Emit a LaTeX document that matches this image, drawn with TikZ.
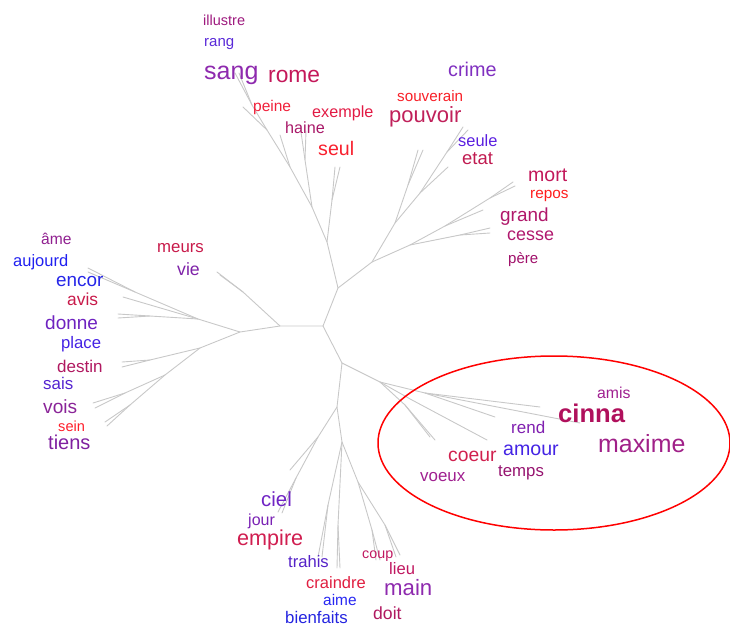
\documentclass[tikz,border=0pt]{standalone}
\usepackage{fontspec}
\setmainfont{Liberation Sans}
\newcommand\wsz[1]{\fontsize{#1}{#1}\selectfont}
\definecolor{cIllustre}{HTML}{9E1A7E}
\definecolor{cRang}{HTML}{5A2AD8}
\definecolor{cSang}{HTML}{8E2AAE}
\definecolor{cRome}{HTML}{C4185A}
\definecolor{cPeine}{HTML}{F0203A}
\definecolor{cExemple}{HTML}{E21A44}
\definecolor{cHaine}{HTML}{A81868}
\definecolor{cSeul}{HTML}{F8202E}
\definecolor{cCrime}{HTML}{8030C0}
\definecolor{cSouverain}{HTML}{F82028}
\definecolor{cPouvoir}{HTML}{C0205A}
\definecolor{cSeule}{HTML}{5A1EE0}
\definecolor{cEtat}{HTML}{C01A50}
\definecolor{cMort}{HTML}{C2185A}
\definecolor{cRepos}{HTML}{FF1E1E}
\definecolor{cGrand}{HTML}{B0186A}
\definecolor{cCesse}{HTML}{B0186E}
\definecolor{cPere}{HTML}{A0106A}
\definecolor{cAme}{HTML}{902090}
\definecolor{cAujourd}{HTML}{2020F0}
\definecolor{cEncor}{HTML}{2626E8}
\definecolor{cAvis}{HTML}{C81A4A}
\definecolor{cDonne}{HTML}{6E22C0}
\definecolor{cPlace}{HTML}{4422E4}
\definecolor{cDestin}{HTML}{B01860}
\definecolor{cSais}{HTML}{5422D0}
\definecolor{cVois}{HTML}{8A2498}
\definecolor{cSein}{HTML}{FF1E2A}
\definecolor{cTiens}{HTML}{8020A0}
\definecolor{cMeurs}{HTML}{C81A4A}
\definecolor{cVie}{HTML}{7E22A8}
\definecolor{cAmis}{HTML}{A02090}
\definecolor{cCinna}{HTML}{B0105C}
\definecolor{cRend}{HTML}{8020B0}
\definecolor{cMaxime}{HTML}{A02088}
\definecolor{cAmour}{HTML}{4424E4}
\definecolor{cCoeur}{HTML}{D0204E}
\definecolor{cTemps}{HTML}{961470}
\definecolor{cVoeux}{HTML}{A02090}
\definecolor{cCiel}{HTML}{7024C4}
\definecolor{cJour}{HTML}{7A22B4}
\definecolor{cEmpire}{HTML}{D01E50}
\definecolor{cTrahis}{HTML}{5522C8}
\definecolor{cCraindre}{HTML}{E01E40}
\definecolor{cAime}{HTML}{2626F2}
\definecolor{cBienfaits}{HTML}{2424E0}
\definecolor{cCoup}{HTML}{C01860}
\definecolor{cLieu}{HTML}{C01860}
\definecolor{cMain}{HTML}{8E2AAE}
\definecolor{cDoit}{HTML}{B01860}
\definecolor{branchgray}{HTML}{C8C8C8}
\begin{document}
\begin{tikzpicture}[x=1pt,y=-1pt,
  word/.style={inner sep=0pt, anchor=base west},
  branch/.style={draw=branchgray, line width=0.9pt, line cap=round, line join=round}]
\useasboundingbox (0,0) rectangle (730,626);
% ---------- tree coordinates ----------
\coordinate (O) at (323,326);
% upper
\coordinate (U1) at (338,288);
\coordinate (A) at (327,242);
\coordinate (As) at (332,200);
\coordinate (S1) at (335,167);
\coordinate (S2) at (340,167);
\coordinate (B) at (312,207);
\coordinate (Bs) at (305,160);
\coordinate (H1) at (301,132);
\coordinate (H2) at (306,131);
\coordinate (C) at (290,167);
\coordinate (Cl) at (280,135);
\coordinate (D) at (267,130);
\coordinate (Dp) at (243,107);
\coordinate (Ds) at (252,105);
\coordinate (Sg1) at (235,73);
\coordinate (Sg2) at (239,73);
% upper right
\coordinate (R) at (372,262);
\coordinate (E) at (395,223);
\coordinate (Es) at (408,185);
\coordinate (Pv1) at (418,150);
\coordinate (Pv2) at (423,150);
\coordinate (H) at (420,193);
\coordinate (Hl) at (448,167);
\coordinate (Hs) at (447,152);
\coordinate (Se1) at (463,127);
\coordinate (Se2) at (468,130);
\coordinate (F) at (410,245);
\coordinate (G) at (445,226);
\coordinate (Gs) at (490,198);
\coordinate (Mo1) at (513,182);
\coordinate (Mo2) at (515,186);
\coordinate (Gr) at (483,210);
\coordinate (Fs) at (460,235);
\coordinate (Ce1) at (490,228);
\coordinate (Ce2) at (490,233);
% left
\coordinate (L) at (280,326);
\coordinate (V) at (243,292);
\coordinate (V1) at (217,272);
\coordinate (V2) at (220,275);
\coordinate (L2) at (240,332);
\coordinate (LU) at (198,319);
\coordinate (LUe) at (135,292);
\coordinate (En1) at (88,268);
\coordinate (En2) at (88,272);
\coordinate (Av) at (123,297);
\coordinate (LUd) at (150,316);
\coordinate (Do1) at (118,314);
\coordinate (Do2) at (118,318);
\coordinate (LD) at (200,348);
\coordinate (LDs) at (150,360);
\coordinate (De1) at (122,362);
\coordinate (De2) at (122,367);
\coordinate (LD2) at (165,375);
\coordinate (LDv) at (125,393);
\coordinate (Vo1) at (93,403);
\coordinate (Vo2) at (95,408);
\coordinate (LDt) at (130,405);
\coordinate (Ti1) at (105,422);
\coordinate (Ti2) at (107,426);
% bottom
\coordinate (M) at (342,363);
\coordinate (N) at (337,407);
\coordinate (K) at (318,437);
\coordinate (Kl) at (290,470);
\coordinate (Ks) at (296,478);
\coordinate (Ci1) at (278,512);
\coordinate (Ci2) at (282,513);
\coordinate (Q) at (342,442);
\coordinate (Q1) at (328,505);
\coordinate (Tr1) at (318,557);
\coordinate (Tr2) at (322,557);
\coordinate (Q2) at (338,525);
\coordinate (Cr1) at (337,568);
\coordinate (Cr2) at (340,568);
\coordinate (Q3) at (358,482);
\coordinate (Q3a) at (372,530);
\coordinate (Co1) at (376,560);
\coordinate (Co2) at (380,560);
\coordinate (Q3b) at (385,525);
\coordinate (Li1) at (396,557);
\coordinate (Li2) at (400,555);
% cinna branch
\coordinate (P) at (380,382);
\coordinate (P1) at (425,393);
\coordinate (Ci) at (540,407);
\coordinate (Cn) at (580,423);
\coordinate (Rd) at (495,417);
\coordinate (P2) at (412,400);
\coordinate (Am) at (487,440);
\coordinate (P3) at (405,405);
\coordinate (Cv1) at (430,437);
\coordinate (Cv2) at (435,440);
% ---------- branches ----------
\draw[branch] (O) -- (U1) -- (A) -- (B) -- (C) -- (D) -- (Ds) -- (Sg1);
\draw[branch] (Ds) -- (Sg2);
\draw[branch] (D) -- (Dp);
\draw[branch] (C) -- (Cl);
\draw[branch] (B) -- (Bs) -- (H1);
\draw[branch] (Bs) -- (H2);
\draw[branch] (A) -- (As) -- (S1);
\draw[branch] (As) -- (S2);
\draw[branch] (U1) -- (R) -- (E) -- (Es) -- (Pv1);
\draw[branch] (Es) -- (Pv2);
\draw[branch] (E) -- (H) -- (Hs) -- (Se1);
\draw[branch] (Hs) -- (Se2);
\draw[branch] (H) -- (Hl);
\draw[branch] (R) -- (F) -- (G) -- (Gs) -- (Mo1);
\draw[branch] (Gs) -- (Mo2);
\draw[branch] (G) -- (Gr);
\draw[branch] (F) -- (Fs) -- (Ce1);
\draw[branch] (Fs) -- (Ce2);
\draw[branch] (O) -- (L) -- (V) -- (V1);
\draw[branch] (V) -- (V2);
\draw[branch] (L) -- (L2) -- (LU) -- (LUe) -- (En1);
\draw[branch] (LUe) -- (En2);
\draw[branch] (LU) -- (Av);
\draw[branch] (LU) -- (LUd) -- (Do1);
\draw[branch] (LUd) -- (Do2);
\draw[branch] (L2) -- (LD) -- (LDs) -- (De1);
\draw[branch] (LDs) -- (De2);
\draw[branch] (LD) -- (LD2) -- (LDv) -- (Vo1);
\draw[branch] (LDv) -- (Vo2);
\draw[branch] (LD2) -- (LDt) -- (Ti1);
\draw[branch] (LDt) -- (Ti2);
\draw[branch] (O) -- (M) -- (N) -- (K) -- (Kl);
\draw[branch] (K) -- (Ks) -- (Ci1);
\draw[branch] (Ks) -- (Ci2);
\draw[branch] (N) -- (Q) -- (Q1) -- (Tr1);
\draw[branch] (Q1) -- (Tr2);
\draw[branch] (Q) -- (Q2) -- (Cr1);
\draw[branch] (Q2) -- (Cr2);
\draw[branch] (Q) -- (Q3) -- (Q3a) -- (Co1);
\draw[branch] (Q3a) -- (Co2);
\draw[branch] (Q3) -- (Q3b) -- (Li1);
\draw[branch] (Q3b) -- (Li2);
\draw[branch] (M) -- (P) -- (P1) -- (Ci);
\draw[branch] (P1) -- (Cn);
\draw[branch] (P1) -- (Rd);
\draw[branch] (P) -- (P2) -- (Am);
\draw[branch] (P) -- (P3) -- (Cv1);
\draw[branch] (P3) -- (Cv2);
% ---------- highlight ellipse ----------
\draw[red, line width=1.5pt] (554,443) ellipse [x radius=176pt, y radius=87pt];
% ---------- words ----------
\node[word, text=cIllustre, font=\wsz{14.5}] (w-illustre) at (203,26) {illustre};
\node[word, text=cRang, font=\wsz{15}] (w-rang) at (204,47) {rang};
\node[word, text=cSang, font=\wsz{25}] (w-sang) at (204,79) {sang};
\node[word, text=cRome, font=\wsz{22.8}] (w-rome) at (268,82) {rome};
\node[word, text=cPeine, font=\wsz{15.5}] (w-peine) at (253,111) {peine};
\node[word, text=cExemple, font=\wsz{16.2}] (w-exemple) at (312,117) {exemple};
\node[word, text=cHaine, font=\wsz{16.2}] (w-haine) at (285,133) {haine};
\node[word, text=cSeul, font=\wsz{19.6}] (w-seul) at (318,155) {seul};
\node[word, text=cCrime, font=\wsz{19.8}] (w-crime) at (448,77) {crime};
\node[word, text=cSouverain, font=\wsz{15.2}] (w-souverain) at (397,101) {souverain};
\node[word, text=cPouvoir, font=\wsz{22}] (w-pouvoir) at (389,122) {pouvoir};
\node[word, text=cSeule, font=\wsz{16.4}] (w-seule) at (458,146) {seule};
\node[word, text=cEtat, font=\wsz{18.4}] (w-etat) at (462,164) {etat};
\node[word, text=cMort, font=\wsz{19.5}] (w-mort) at (528,181) {mort};
\node[word, text=cRepos, font=\wsz{15.3}] (w-repos) at (530,198) {repos};
\node[word, text=cGrand, font=\wsz{18.9}] (w-grand) at (500,221) {grand};
\node[word, text=cCesse, font=\wsz{17.9}] (w-cesse) at (507,240) {cesse};
\node[word, text=cPere, font=\wsz{15}] (w-pere) at (508,263) {père};
\node[word, text=cAme, font=\wsz{15.6}] (w-ame) at (41,244) {âme};
\node[word, text=cAujourd, font=\wsz{16.5}] (w-aujourd) at (13,266) {aujourd};
\node[word, text=cEncor, font=\wsz{18.9}] (w-encor) at (56,286) {encor};
\node[word, text=cAvis, font=\wsz{17.4}] (w-avis) at (67,305) {avis};
\node[word, text=cDonne, font=\wsz{19}] (w-donne) at (45,329) {donne};
\node[word, text=cPlace, font=\wsz{16.7}] (w-place) at (61,348) {place};
\node[word, text=cDestin, font=\wsz{17}] (w-destin) at (57,372) {destin};
\node[word, text=cSais, font=\wsz{16.9}] (w-sais) at (43,389) {sais};
\node[word, text=cVois, font=\wsz{19.1}] (w-vois) at (43,413) {vois};
\node[word, text=cSein, font=\wsz{14.6}] (w-sein) at (58,431) {sein};
\node[word, text=cTiens, font=\wsz{20}] (w-tiens) at (48,449) {tiens};
\node[word, text=cMeurs, font=\wsz{16.8}] (w-meurs) at (157,252) {meurs};
\node[word, text=cVie, font=\wsz{17.7}] (w-vie) at (177,275) {vie};
\node[word, text=cAmis, font=\wsz{15.8}] (w-amis) at (597,398) {amis};
\node[word, text=cCinna, font=\bfseries\wsz{25.6}] (w-cinna) at (558,422) {cinna};
\node[word, text=cRend, font=\wsz{17}] (w-rend) at (511,433) {rend};
\node[word, text=cMaxime, font=\wsz{24.9}] (w-maxime) at (598,452) {maxime};
\node[word, text=cAmour, font=\wsz{19.6}] (w-amour) at (503,455) {amour};
\node[word, text=cCoeur, font=\wsz{19.3}] (w-coeur) at (448,461) {coeur};
\node[word, text=cTemps, font=\wsz{16.8}] (w-temps) at (498,476) {temps};
\node[word, text=cVoeux, font=\wsz{16.9}] (w-voeux) at (420,481) {voeux};
\node[word, text=cCiel, font=\wsz{20.4}] (w-ciel) at (261,506) {ciel};
\node[word, text=cJour, font=\wsz{16}] (w-jour) at (248,525) {jour};
\node[word, text=cEmpire, font=\wsz{21.6}] (w-empire) at (237,545) {empire};
\node[word, text=cTrahis, font=\wsz{16.6}] (w-trahis) at (288,567) {trahis};
\node[word, text=cCraindre, font=\wsz{16.5}] (w-craindre) at (306,588) {craindre};
\node[word, text=cAime, font=\wsz{15.4}] (w-aime) at (323,605) {aime};
\node[word, text=cBienfaits, font=\wsz{16.8}] (w-bienfaits) at (285,623) {bienfaits};
\node[word, text=cCoup, font=\wsz{14.3}] (w-coup) at (362,558) {coup};
\node[word, text=cLieu, font=\wsz{16.6}] (w-lieu) at (389,574) {lieu};
\node[word, text=cMain, font=\wsz{22.2}] (w-main) at (384,595) {main};
\node[word, text=cDoit, font=\wsz{17.6}] (w-doit) at (373,619) {doit};
\end{tikzpicture}
\end{document}
